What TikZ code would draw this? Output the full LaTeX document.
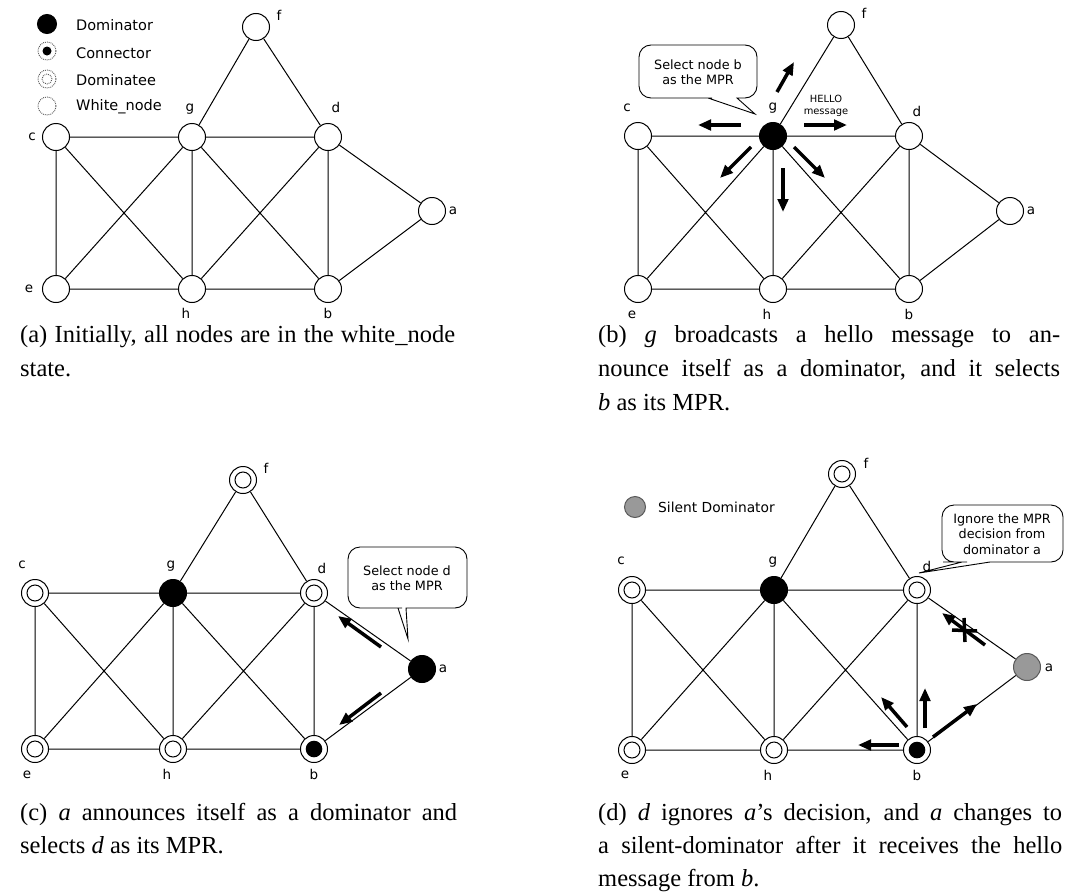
\documentclass[tikz,border=0pt]{standalone}
\usepackage{fontspec}
\setmainfont{Liberation Serif}
\newfontfamily\diafont{DejaVu Sans}
\usetikzlibrary{arrows.meta,calc}

% the fifteen links of the example network, for nodes named <prefix>a ... <prefix>h
\newcommand\netedges[1]{%
  \draw[edge] (#1c)--(#1g) (#1g)--(#1d) (#1c)--(#1e) (#1c)--(#1h)
    (#1g)--(#1e) (#1g)--(#1h) (#1g)--(#1b) (#1d)--(#1h) (#1d)--(#1b)
    (#1e)--(#1h) (#1h)--(#1b) (#1f)--(#1g) (#1f)--(#1d) (#1d)--(#1a) (#1b)--(#1a);}
% node name label, offset from the node centre
\newcommand\vlab[4]{\node[lbl] (#1-lab) at ($(#1)+(#2,#3)$) {#4};}
% a message arrow between two named end points
\newcommand\hello[3]{\coordinate (#1-s) at (#2); \coordinate (#1-t) at (#3);
  \draw[msgarrow] (#1-s) -- (#1-t);}

\begin{document}
\begin{tikzpicture}[x=1pt,y=-1pt,
  edge/.style={line width=1pt},
  vtx/.style={circle,draw,line width=1pt,fill=white,minimum size=27pt,inner sep=0pt},
  whitenode/.style={vtx},
  dominator/.style={vtx,fill=black},
  dominatee/.style={vtx,path picture={\draw[line width=1pt]
      (path picture bounding box.center) circle (8pt);}},
  relaynode/.style={vtx,path picture={\fill[black]
      (path picture bounding box.center) circle (8.3pt);}},
  silent/.style={vtx,fill=black!40,draw=black!65},
  lbl/.style={font=\diafont\fontsize{13.5}{16}\selectfont,inner sep=0pt},
  keytext/.style={font=\diafont\fontsize{14.5}{17}\selectfont,inner sep=0pt,anchor=west},
  keyring/.style={circle,draw=black!65,densely dotted,line width=0.9pt,minimum size=18pt,inner sep=0pt},
  balloon/.style={draw,line width=0.9pt,fill=white},
  balloontext/.style={font=\diafont\fontsize{12.8}{15.5}\selectfont,align=center,inner sep=0pt},
  msgarrow/.style={line width=3.5pt,-{Triangle[length=13pt,width=10.5pt]}},
  subcap/.style={font=\fontsize{24.5}{30}\selectfont,inner sep=0pt,anchor=base west},
]
\useasboundingbox (0,0) rectangle (1076,894);

% ---------------- (a) initial state ----------------
\node[dominator,minimum size=19pt] (K-dom) at (47,24) {};
\node[keytext] (K-domt) at (76,25) {Dominator};
\node[keyring,path picture={\fill[black] (path picture bounding box.center) circle (4.5pt);}] (K-con) at (47,51) {};
\node[keytext] (K-cont) at (76,53) {Connector};
\node[keyring,path picture={\draw[black!65,densely dotted,line width=0.9pt]
    (path picture bounding box.center) circle (5pt);}] (K-dee) at (47,79) {};
\node[keytext] (K-deet) at (76,80) {Dominatee};
\node[keyring] (K-wht) at (47,106) {};
\node[keytext] (K-whtt) at (76,107) {White\_node};

\node[whitenode] (A-c) at (56,137) {};
\node[whitenode] (A-g) at (192,137) {};
\node[whitenode] (A-d) at (328,137) {};
\node[whitenode] (A-f) at (256,27) {};
\node[whitenode] (A-a) at (432,211) {};
\node[whitenode] (A-e) at (56,289) {};
\node[whitenode] (A-h) at (192,289) {};
\node[whitenode] (A-b) at (328,289) {};
\netedges{A-}
\vlab{A-c}{-24}{0}{c}
\vlab{A-g}{-2}{-28}{g}
\vlab{A-d}{8}{-30}{d}
\vlab{A-f}{23}{-12}{f}
\vlab{A-a}{21}{0}{a}
\vlab{A-e}{-27}{0}{e}
\vlab{A-h}{-6}{24}{h}
\vlab{A-b}{0}{24}{b}

\node[subcap] (A-cap1) at (20,342) {\makebox[435pt][s]{(a) Initially, all nodes are in the white\_node}};
\node[subcap] (A-cap2) at (20,376) {state.};

% ---------------- (b) g says hello ----------------
\node[whitenode] (B-c) at (638,136) {};
\node[dominator] (B-g) at (773,136) {};
\node[whitenode] (B-d) at (909,136) {};
\node[whitenode] (B-f) at (841,25) {};
\node[whitenode] (B-a) at (1010,211) {};
\node[whitenode] (B-e) at (638,289) {};
\node[whitenode] (B-h) at (773,289) {};
\node[whitenode] (B-b) at (909,289) {};
\netedges{B-}
\vlab{B-c}{-11}{-28}{c}
\vlab{B-g}{0}{-28}{g}
\vlab{B-d}{8}{-25}{d}
\vlab{B-f}{23}{-12}{f}
\vlab{B-a}{21}{0}{a}
\vlab{B-e}{-6}{26}{e}
\vlab{B-h}{-6}{25}{h}
\vlab{B-b}{0}{25}{b}

\hello{B-m1}{804,125}{847,125}
\hello{B-m2}{741,125}{698,125}
\hello{B-m3}{777,92}{794,62}
\hello{B-m4}{751,147}{720,178}
\hello{B-m5}{783,168}{783,212}
\hello{B-m6}{794,147}{825,178}
\node[font=\diafont\fontsize{9.9}{11.5}\selectfont,align=center,inner sep=0pt] (B-hello) at (826,106) {HELLO\\message};

\draw[balloon] (708,98) -- (755,114) -- (737,98) -- (745,98) [rounded corners=12pt]
  -- (757,98) -- (757,45) -- (639,45) -- (639,98) -- (700,98) [sharp corners] -- cycle;
\node[balloontext] (B-call) at (698,72) {Select node b\\as the MPR};

\node[subcap] (B-cap1) at (598,342) {\makebox[462pt][s]{(b) \textit{g} broadcasts a hello message to an-}};
\node[subcap] (B-cap2) at (598,376) {\makebox[462pt][s]{nounce itself as a dominator, and it selects}};
\node[subcap] (B-cap3) at (598,410) {\textit{b} as its MPR.};

% ---------------- (c) a announces itself ----------------
\node[dominatee] (C-c) at (35,593) {};
\node[dominator] (C-g) at (173,593) {};
\node[dominatee] (C-d) at (314,593) {};
\node[dominatee] (C-f) at (243,480) {};
\node[dominator] (C-a) at (422,669) {};
\node[dominatee] (C-e) at (35,749) {};
\node[dominatee] (C-h) at (173,749) {};
\node[relaynode] (C-b) at (314,749) {};
\netedges{C-}
\vlab{C-c}{-13}{-28}{c}
\vlab{C-g}{-2}{-27}{g}
\vlab{C-d}{8}{-25}{d}
\vlab{C-f}{23}{-12}{f}
\vlab{C-a}{21}{0}{a}
\vlab{C-e}{-8}{26}{e}
\vlab{C-h}{-6}{25}{h}
\vlab{C-b}{0}{25}{b}

\hello{C-m1}{381,647}{338,616}
\hello{C-m2}{381,693}{339,725}

\draw[balloon] (398,608) -- (408,639) -- (406,608) -- (420,608) [rounded corners=12pt]
  -- (467,608) -- (467,547) -- (348,547) -- (348,608) -- (390,608) [sharp corners] -- cycle;
\node[balloontext] (C-call) at (407,578) {Select node d\\as the MPR};

\node[subcap] (C-cap1) at (20,820) {\makebox[437pt][s]{(c) \textit{a} announces itself as a dominator and}};
\node[subcap] (C-cap2) at (20,853) {selects \textit{d} as its MPR.};

% ---------------- (d) a falls silent ----------------
\node[silent,minimum size=21pt] (K-sil) at (635,507) {};
\node[keytext,font=\diafont\fontsize{13.8}{16}\selectfont] (K-silt) at (658,507) {Silent Dominator};

\node[dominatee] (D-c) at (632,590) {};
\node[dominator] (D-g) at (774,590) {};
\node[dominatee] (D-d) at (917,590) {};
\node[dominatee] (D-f) at (842,474) {};
\node[silent] (D-a) at (1027,667) {};
\node[dominatee] (D-e) at (632,750) {};
\node[dominatee] (D-h) at (774,750) {};
\node[relaynode] (D-b) at (917,750) {};
\netedges{D-}
\vlab{D-c}{-11}{-29}{c}
\vlab{D-g}{-1}{-28}{g}
\vlab{D-d}{10}{-24}{d}
\vlab{D-f}{24}{-11}{f}
\vlab{D-a}{22}{1}{a}
\vlab{D-e}{-7}{25}{e}
\vlab{D-h}{-6}{25}{h}
\vlab{D-b}{0}{25}{b}

\draw[balloon] (962,562) -- (919,573) -- (990,562) -- (1000,562) [rounded corners=12pt]
  -- (1063,562) -- (1063,505) -- (942,505) -- (942,562) -- (955,562) [sharp corners] -- cycle;
\node[balloontext] (D-call) at (1002,534) {Ignore the MPR\\decision from\\dominator a};

% the refused MPR request, crossed out
\hello{D-m0}{985,645}{942,613}
\coordinate (D-x1) at (952,630); \coordinate (D-x2) at (977,631);
\coordinate (D-x3) at (964,618); \coordinate (D-x4) at (965,642);
\draw[line width=3.5pt] (D-x1) -- (D-x2) (D-x3) -- (D-x4);

\hello{D-m1}{899,745}{858,745}
\hello{D-m2}{907,727}{881,697}
\hello{D-m3}{925,728}{925,688}
\hello{D-m4}{933,737}{977,704}

\node[subcap] (D-cap1) at (598,820) {\makebox[464pt][s]{(d) \textit{d} ignores \textit{a}'s decision, and \textit{a} changes to}};
\node[subcap] (D-cap2) at (598,853) {\makebox[464pt][s]{a silent-dominator after it receives the hello}};
\node[subcap] (D-cap3) at (598,886) {message from \textit{b}.};
\end{tikzpicture}
\end{document}
